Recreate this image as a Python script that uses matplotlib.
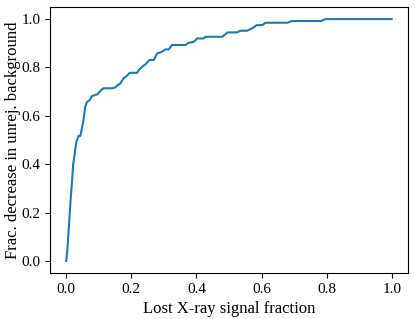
import matplotlib
matplotlib.use("Agg")
import matplotlib.pyplot as plt

lost_signal = [0.0, 0.004, 0.010, 0.014, 0.018, 0.021, 0.026, 0.031, 0.038, 0.043, 0.047, 0.053,
               0.058, 0.064, 0.072, 0.079, 0.089, 0.096, 0.107, 0.115, 0.141, 0.151, 0.158, 0.166,
               0.176, 0.185, 0.195, 0.218, 0.222, 0.233, 0.243, 0.256, 0.269, 0.279, 0.294, 0.305,
               0.315, 0.325, 0.366, 0.376, 0.392, 0.402, 0.422, 0.428, 0.479, 0.496, 0.525, 0.535,
               0.556, 0.571, 0.585, 0.602, 0.612, 0.679, 0.694, 0.782, 0.797, 1.0]
bkg_decrease = [0.0, 0.059, 0.183, 0.266, 0.335, 0.397, 0.445, 0.493, 0.517, 0.517, 0.541, 0.583,
                0.636, 0.658, 0.665, 0.682, 0.686, 0.690, 0.707, 0.714, 0.714, 0.718, 0.727, 0.734,
                0.755, 0.764, 0.778, 0.778, 0.789, 0.803, 0.813, 0.831, 0.831, 0.858, 0.865, 0.875,
                0.875, 0.893, 0.893, 0.902, 0.906, 0.920, 0.920, 0.927, 0.927, 0.945, 0.945, 0.952,
                0.952, 0.962, 0.975, 0.975, 0.985, 0.985, 0.992, 0.992, 1.0, 1.0]

plt.rcParams['font.family'] = ['Liberation Serif', 'DejaVu Serif']
plt.rcParams['font.size'] = 12

fig = plt.figure(figsize=(4.15, 3.19), dpi=100)
ax = fig.add_axes([0.1205, 0.144, 0.8625, 0.834])
ax.plot(lost_signal, bkg_decrease, color='#1f77b4', lw=1.5)
ax.set_xlabel('Lost X-ray signal fraction')
ax.set_ylabel('Frac. decrease in unrej. background')
ax.yaxis.set_label_coords(-0.08, 0.5)
ax.set_xticks([0, 0.2, 0.4, 0.6, 0.8, 1.0])
ax.set_yticks([0, 0.2, 0.4, 0.6, 0.8, 1.0])
ax.tick_params(labelsize=11)
fig.savefig('out.png', dpi=100)
